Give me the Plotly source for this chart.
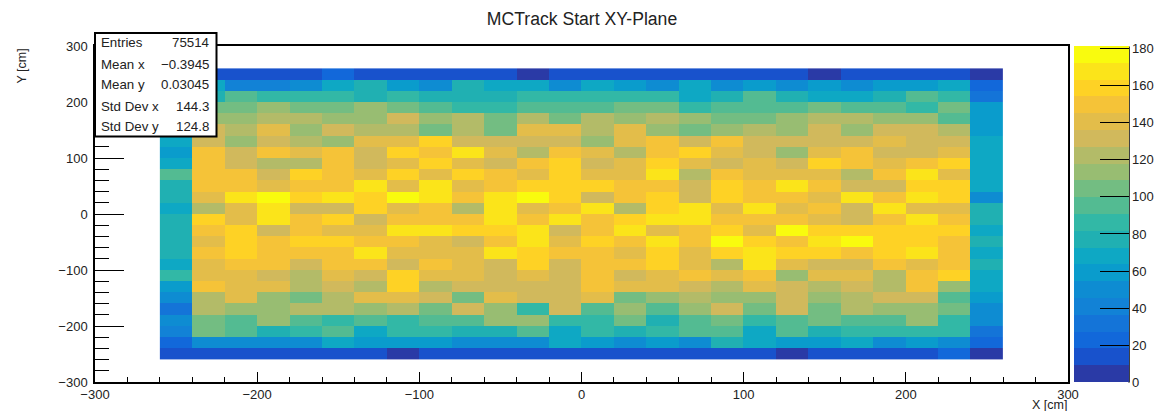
import plotly.graph_objects as go

W, H = 1158, 411
L, R, T, B = 95, 1068, 46, 382

x_centers = [-250, -230, -210, -190, -170, -150, -130, -110, -90, -70, -50, -30, -10,
             10, 30, 50, 70, 90, 110, 130, 150, 170, 190, 210, 230, 250]
y_centers = [250, 230, 210, 190, 170, 150, 130, 110, 90, 70, 50, 30, 10,
             -10, -30, -50, -70, -90, -110, -130, -150, -170, -190, -210, -230, -250]

row_250 = [14,14,14,14,14,23,14,14,14,14,14,5,14,14,14,14,14,14,14,14,5,14,14,14,14,5]
row_230 = [32,68,41,41,50,68,77,59,50,77,68,68,50,68,59,50,68,50,59,50,59,50,59,59,68,23]
row_210 = [41,77,95,86,86,86,77,86,77,77,77,86,86,86,86,86,68,77,95,77,68,68,77,95,86,32]
row_190 = [50,104,104,113,104,104,113,104,95,86,86,95,95,95,104,104,86,95,95,95,104,95,95,86,104,59]
row_170 = [50,113,113,122,122,113,113,131,113,122,104,122,104,122,113,122,113,104,104,113,122,122,113,113,95,59]
row_150 = [59,131,122,140,113,131,122,122,104,122,104,140,140,122,140,113,104,113,122,113,131,113,131,131,122,59]
row_130 = [68,131,113,131,122,113,140,140,158,131,131,131,131,113,140,149,131,149,131,131,131,131,140,131,131,68]
row_110 = [59,149,131,149,140,149,131,158,149,167,140,122,149,140,122,149,158,140,131,113,140,149,131,131,140,68]
row_90 = [68,149,131,122,122,149,131,140,158,140,131,149,158,131,140,158,140,131,140,131,158,149,140,149,158,68]
row_70 = [95,149,149,131,158,149,140,158,140,158,149,140,158,140,140,167,122,149,140,140,140,122,149,167,140,68]
row_50 = [77,149,149,140,149,149,167,140,167,140,149,158,158,158,149,149,131,158,149,167,149,131,131,158,158,68]
row_30 = [77,140,167,176,158,167,158,176,167,149,167,176,158,131,149,158,131,158,149,149,140,167,149,167,158,50]
row_10 = [68,122,140,167,131,131,158,140,149,122,167,140,149,167,122,158,167,140,167,140,149,131,167,140,140,77]
row_m10 = [77,158,140,167,149,158,131,149,149,149,167,149,167,149,158,167,167,149,149,149,140,131,149,167,149,77]
row_m30 = [77,149,158,131,149,140,140,167,167,158,158,167,131,149,167,140,149,158,140,176,158,158,158,158,158,68]
row_m50 = [77,140,158,149,158,158,149,149,140,131,149,167,140,158,149,167,149,176,158,149,167,176,158,158,149,77]
row_m70 = [77,149,158,149,149,149,167,140,140,140,167,158,149,149,140,158,140,158,167,158,158,149,158,167,149,68]
row_m90 = [68,140,149,149,131,149,149,131,149,140,131,158,131,149,149,158,140,122,167,140,131,131,149,140,149,77]
row_m110 = [86,140,140,131,122,140,131,158,140,140,131,140,131,149,131,140,149,140,149,113,140,140,122,149,158,68]
row_m130 = [59,149,140,140,122,131,122,158,122,131,131,131,131,149,140,140,131,122,140,131,122,131,122,149,113,68]
row_m150 = [50,122,140,113,104,122,140,140,131,104,140,131,131,140,104,113,122,113,113,131,113,122,131,131,95,59]
row_m170 = [32,122,113,113,122,122,113,122,104,131,113,86,131,95,113,95,113,131,104,131,104,122,113,113,104,50]
row_m190 = [50,104,95,113,95,86,95,86,95,95,113,113,86,86,104,77,95,104,86,95,104,95,95,113,86,50]
row_m210 = [41,104,95,77,86,95,68,86,86,77,77,95,68,86,77,86,95,95,68,95,77,86,86,86,86,32]
row_m230 = [23,50,50,50,50,68,59,59,59,50,50,50,68,59,50,59,50,77,68,59,59,68,50,59,50,23]
row_m250 = [14,14,14,14,14,14,14,5,14,14,14,14,14,14,14,14,14,14,14,5,14,14,14,14,23,5]

z_rows = [row_250, row_230, row_210, row_190, row_170, row_150, row_130, row_110, row_90,
          row_70, row_50, row_30, row_10, row_m10, row_m30, row_m50, row_m70, row_m90,
          row_m110, row_m130, row_m150, row_m170, row_m190, row_m210, row_m230, row_m250]

band_colors = ["#2a3aa6", "#1852cc", "#1268da", "#1474d8", "#1282d6", "#0e8cd2", "#0a9ccc",
               "#0ea8c4", "#20b0b2", "#32b8a6", "#53bb92", "#73bd82", "#98bd72", "#b3bb68",
               "#d1b95c", "#e3bd4a", "#f5c338", "#fed225", "#fbe41a", "#f9fb0e"]

stats_labels = ["Entries", "Mean x", "Mean y", "Std Dev x", "Std Dev y"]
stats_values = ["75514", "\u22120.3945", "0.03045", "144.3", "124.8"]
stats_rows_px = [42, 64.5, 84, 106, 126]

ZMAX = 181
FONT = "Liberation Sans, Arial, Helvetica, sans-serif"
n = len(band_colors)
colorscale = []
for i, c in enumerate(band_colors):
    colorscale.append([i / n, c])
    colorscale.append([(i + 1) / n, c])


def px(x):
    return (x - L) / (R - L)


def py(y):
    return (B - y) / (B - T)


fig = go.Figure(go.Heatmap(
    x=x_centers, y=y_centers, z=z_rows, zmin=0, zmax=ZMAX, colorscale=colorscale,
    hoverongaps=False,
    colorbar=dict(
        x=px(1074), xanchor="left", xpad=0, ypad=0, y=py(214.5), yanchor="middle",
        len=(382.5 - 46.5) / (B - T), thicknessmode="pixels", thickness=55,
        outlinewidth=0, tick0=0, dtick=20, ticks="inside", ticklen=29,
        tickcolor="black", tickwidth=1, tickfont=dict(family=FONT, size=13, color="#222"),
    ),
))

axis_common = dict(
    showgrid=False, zeroline=False, showline=True, linecolor="black", linewidth=1.5,
    mirror=True, ticks="inside", tickcolor="black", tickwidth=1, tick0=-300, dtick=100,
    tickfont=dict(family=FONT, size=13, color="#222"),
)
fig.update_xaxes(range=[-300, 300], ticklen=10,
                 minor=dict(dtick=20, tick0=-300, ticks="inside", ticklen=5, tickcolor="black", tickwidth=1),
                 **axis_common)
fig.update_yaxes(range=[-300, 300], ticklen=29, ticklabelstandoff=3,
                 minor=dict(dtick=20, tick0=-300, ticks="inside", ticklen=14, tickcolor="black", tickwidth=1),
                 **axis_common)

fig.update_layout(
    width=W, height=H, autosize=False, paper_bgcolor="white", plot_bgcolor="white",
    margin=dict(l=L, r=W - R, t=T, b=H - B, pad=0, autoexpand=False),
    font=dict(family=FONT, color="#222"),
    title=dict(text="MCTrack Start XY-Plane", x=582 / W, xanchor="center",
               y=1 - 19 / H, yanchor="middle", yref="container",
               font=dict(family=FONT, size=17.6, color="#222")),
)

# statistics box
fig.add_shape(type="rect", xref="paper", yref="paper", layer="above",
              x0=px(95), x1=px(216.5), y0=py(136.5), y1=py(33),
              fillcolor="white", line=dict(color="black", width=2))
for lab, val, yp in zip(stats_labels, stats_values, stats_rows_px):
    fig.add_annotation(text=lab, xref="paper", yref="paper", x=px(99), y=py(yp),
                       xanchor="left", yanchor="middle", showarrow=False,
                       font=dict(family=FONT, size=13.3, color="#222"))
    fig.add_annotation(text=val, xref="paper", yref="paper", x=px(210.5), y=py(yp),
                       xanchor="right", yanchor="middle", showarrow=False,
                       font=dict(family=FONT, size=13.3, color="#222"))

# axis titles and colour-bar axis line
fig.add_annotation(text="X [cm]", xref="paper", yref="paper", x=px(1069), y=py(405),
                   xanchor="right", yanchor="middle", showarrow=False,
                   font=dict(family=FONT, size=12.5, color="#222"))
fig.add_annotation(text="Y [cm]", xref="paper", yref="paper", x=px(21), y=py(47),
                   xanchor="center", yanchor="top", textangle=-90, showarrow=False,
                   font=dict(family=FONT, size=12.5, color="#222"))
fig.add_shape(type="line", xref="paper", yref="paper", layer="above",
              x0=px(1129), x1=px(1129), y0=py(382.5), y1=py(46.5),
              line=dict(color="black", width=1.5))

fig.write_html("out.html", config=dict(displayModeBar=False),
               post_script="document.body.style.margin='0';document.body.style.overflow='hidden';")
